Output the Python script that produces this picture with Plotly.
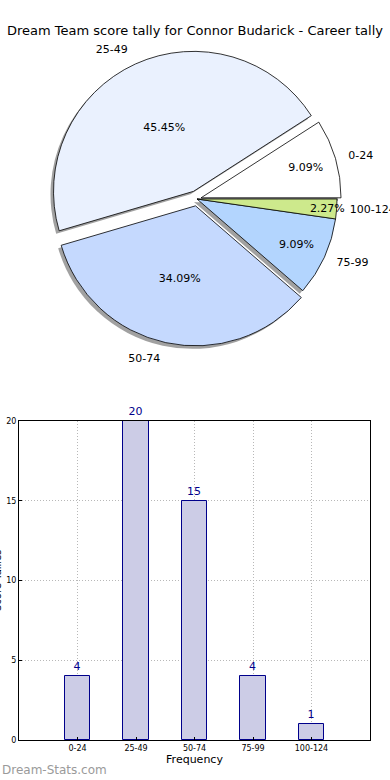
import plotly.graph_objects as go

categories = ["0-24", "25-49", "50-74", "75-99", "100-124"]
tallies = [4, 20, 15, 4, 1]
pie_colors = ["#ffffff", "#eaf1fe", "#c5d9fe", "#b3d5fe", "#cde98c"]
pulls = [0.03, 0.06, 0.05, 0.0, 0.0]
yticks = [0, 5, 10, 15, 20]

W, H = 390, 780
FONT = "DejaVu Sans"

def px_x(p):
    return p / W

def px_y(p):
    return 1 - p / H

# first slice should start at 3 o'clock and run counterclockwise
start_rot = 90 - 360 * tallies[0] / sum(tallies)

def domain(cx, cy, r):
    D = 2 * r * (1 + max(pulls))
    return dict(x=[px_x(cx - D / 2), px_x(cx + D / 2)],
                y=[px_y(cy + D / 2), px_y(cy - D / 2)])

# pie geometry
cx, cy, r = 197, 199, 140
off = 3

fig = go.Figure()

common = dict(labels=categories, values=tallies, sort=False,
              direction="counterclockwise", rotation=start_rot, pull=pulls,
              hoverinfo="skip", showlegend=False)

# shadow
fig.add_trace(go.Pie(**common, domain=domain(cx - off, cy + off, r),
                     marker=dict(colors=["#8a8a8a"] * len(tallies),
                                 line=dict(width=0)),
                     textinfo="none", opacity=0.8))
# main slices with percentages
fig.add_trace(go.Pie(**common, domain=domain(cx, cy, r),
                     marker=dict(colors=pie_colors,
                                 line=dict(color="#000000", width=0.8)),
                     texttemplate="%{percent:.2%}", textposition="inside",
                     insidetextorientation="horizontal",
                     textfont=dict(family=FONT, size=11, color="#000000")))
# outside labels (placed a little further out, like labeldistance 1.1)
fig.add_trace(go.Pie(**common, domain=domain(cx, cy, r * 1.07),
                     marker=dict(colors=["rgba(0,0,0,0)"] * len(tallies),
                                 line=dict(width=0)),
                     textinfo="label", textposition="outside",
                     textfont=dict(family=FONT, size=11, color="#000000")))

# bar chart
fig.add_trace(go.Bar(x=categories, y=tallies, width=0.44,
                     marker=dict(color="#ccccE6",
                                 line=dict(color="#00008b", width=1)),
                     text=[str(v) for v in tallies], textposition="outside",
                     textfont=dict(family=FONT, size=11, color="#00008b"),
                     cliponaxis=False, showlegend=False, hoverinfo="skip"))

grid = dict(showgrid=True, gridcolor="#b8b8b8", griddash="1px,2px",
            gridwidth=1)

fig.update_layout(
    width=W, height=H,
    margin=dict(l=0, r=0, t=0, b=0, autoexpand=False),
    paper_bgcolor="white", plot_bgcolor="white",
    font=dict(family=FONT, color="#000000"),
    uniformtext=dict(minsize=11, mode="show"),
    title=dict(text="Dream Team score tally for Connor Budarick - Career tally",
               x=0.5, xanchor="center", y=px_y(30), yanchor="middle",
               yref="paper", font=dict(family=FONT, size=13, color="#000000")),
    xaxis=dict(domain=[px_x(19), px_x(370)], range=[-1, 5],
               type="category", showline=True, linecolor="#000000",
               linewidth=1, mirror=True, **grid, automargin=False,
               ticks="inside", ticklen=3, tickcolor="#000000",
               tickfont=dict(family=FONT, size=8),
               title=dict(text="Frequency", font=dict(family=FONT, size=11),
                          standoff=2),
               fixedrange=True, zeroline=False),
    yaxis=dict(domain=[px_y(740), px_y(421)], range=[0, 20],
               tickvals=yticks, showline=True, linecolor="#000000",
               linewidth=1, mirror=True, **grid, automargin=False,
               ticks="inside", ticklen=3, tickcolor="#000000",
               tickfont=dict(family=FONT, size=8), zeroline=False,
               fixedrange=True),
    bargap=0,
    annotations=[
        dict(text="Score Tallies", textangle=-90, xref="paper", yref="paper",
             x=px_x(-3), y=px_y(581), xanchor="center", yanchor="middle",
             showarrow=False, font=dict(family=FONT, size=10, color="#000000")),
        dict(text="Dream-Stats.com", xref="paper", yref="paper",
             x=0, y=px_y(770), xanchor="left", yanchor="middle",
             showarrow=False, font=dict(family=FONT, size=12, color="#9a9a9a")),
    ],
)

fig.write_html("out.html",
               config={"displayModeBar": False},
               post_script="document.body.style.margin='0';"
                           "document.body.style.padding='0';")
